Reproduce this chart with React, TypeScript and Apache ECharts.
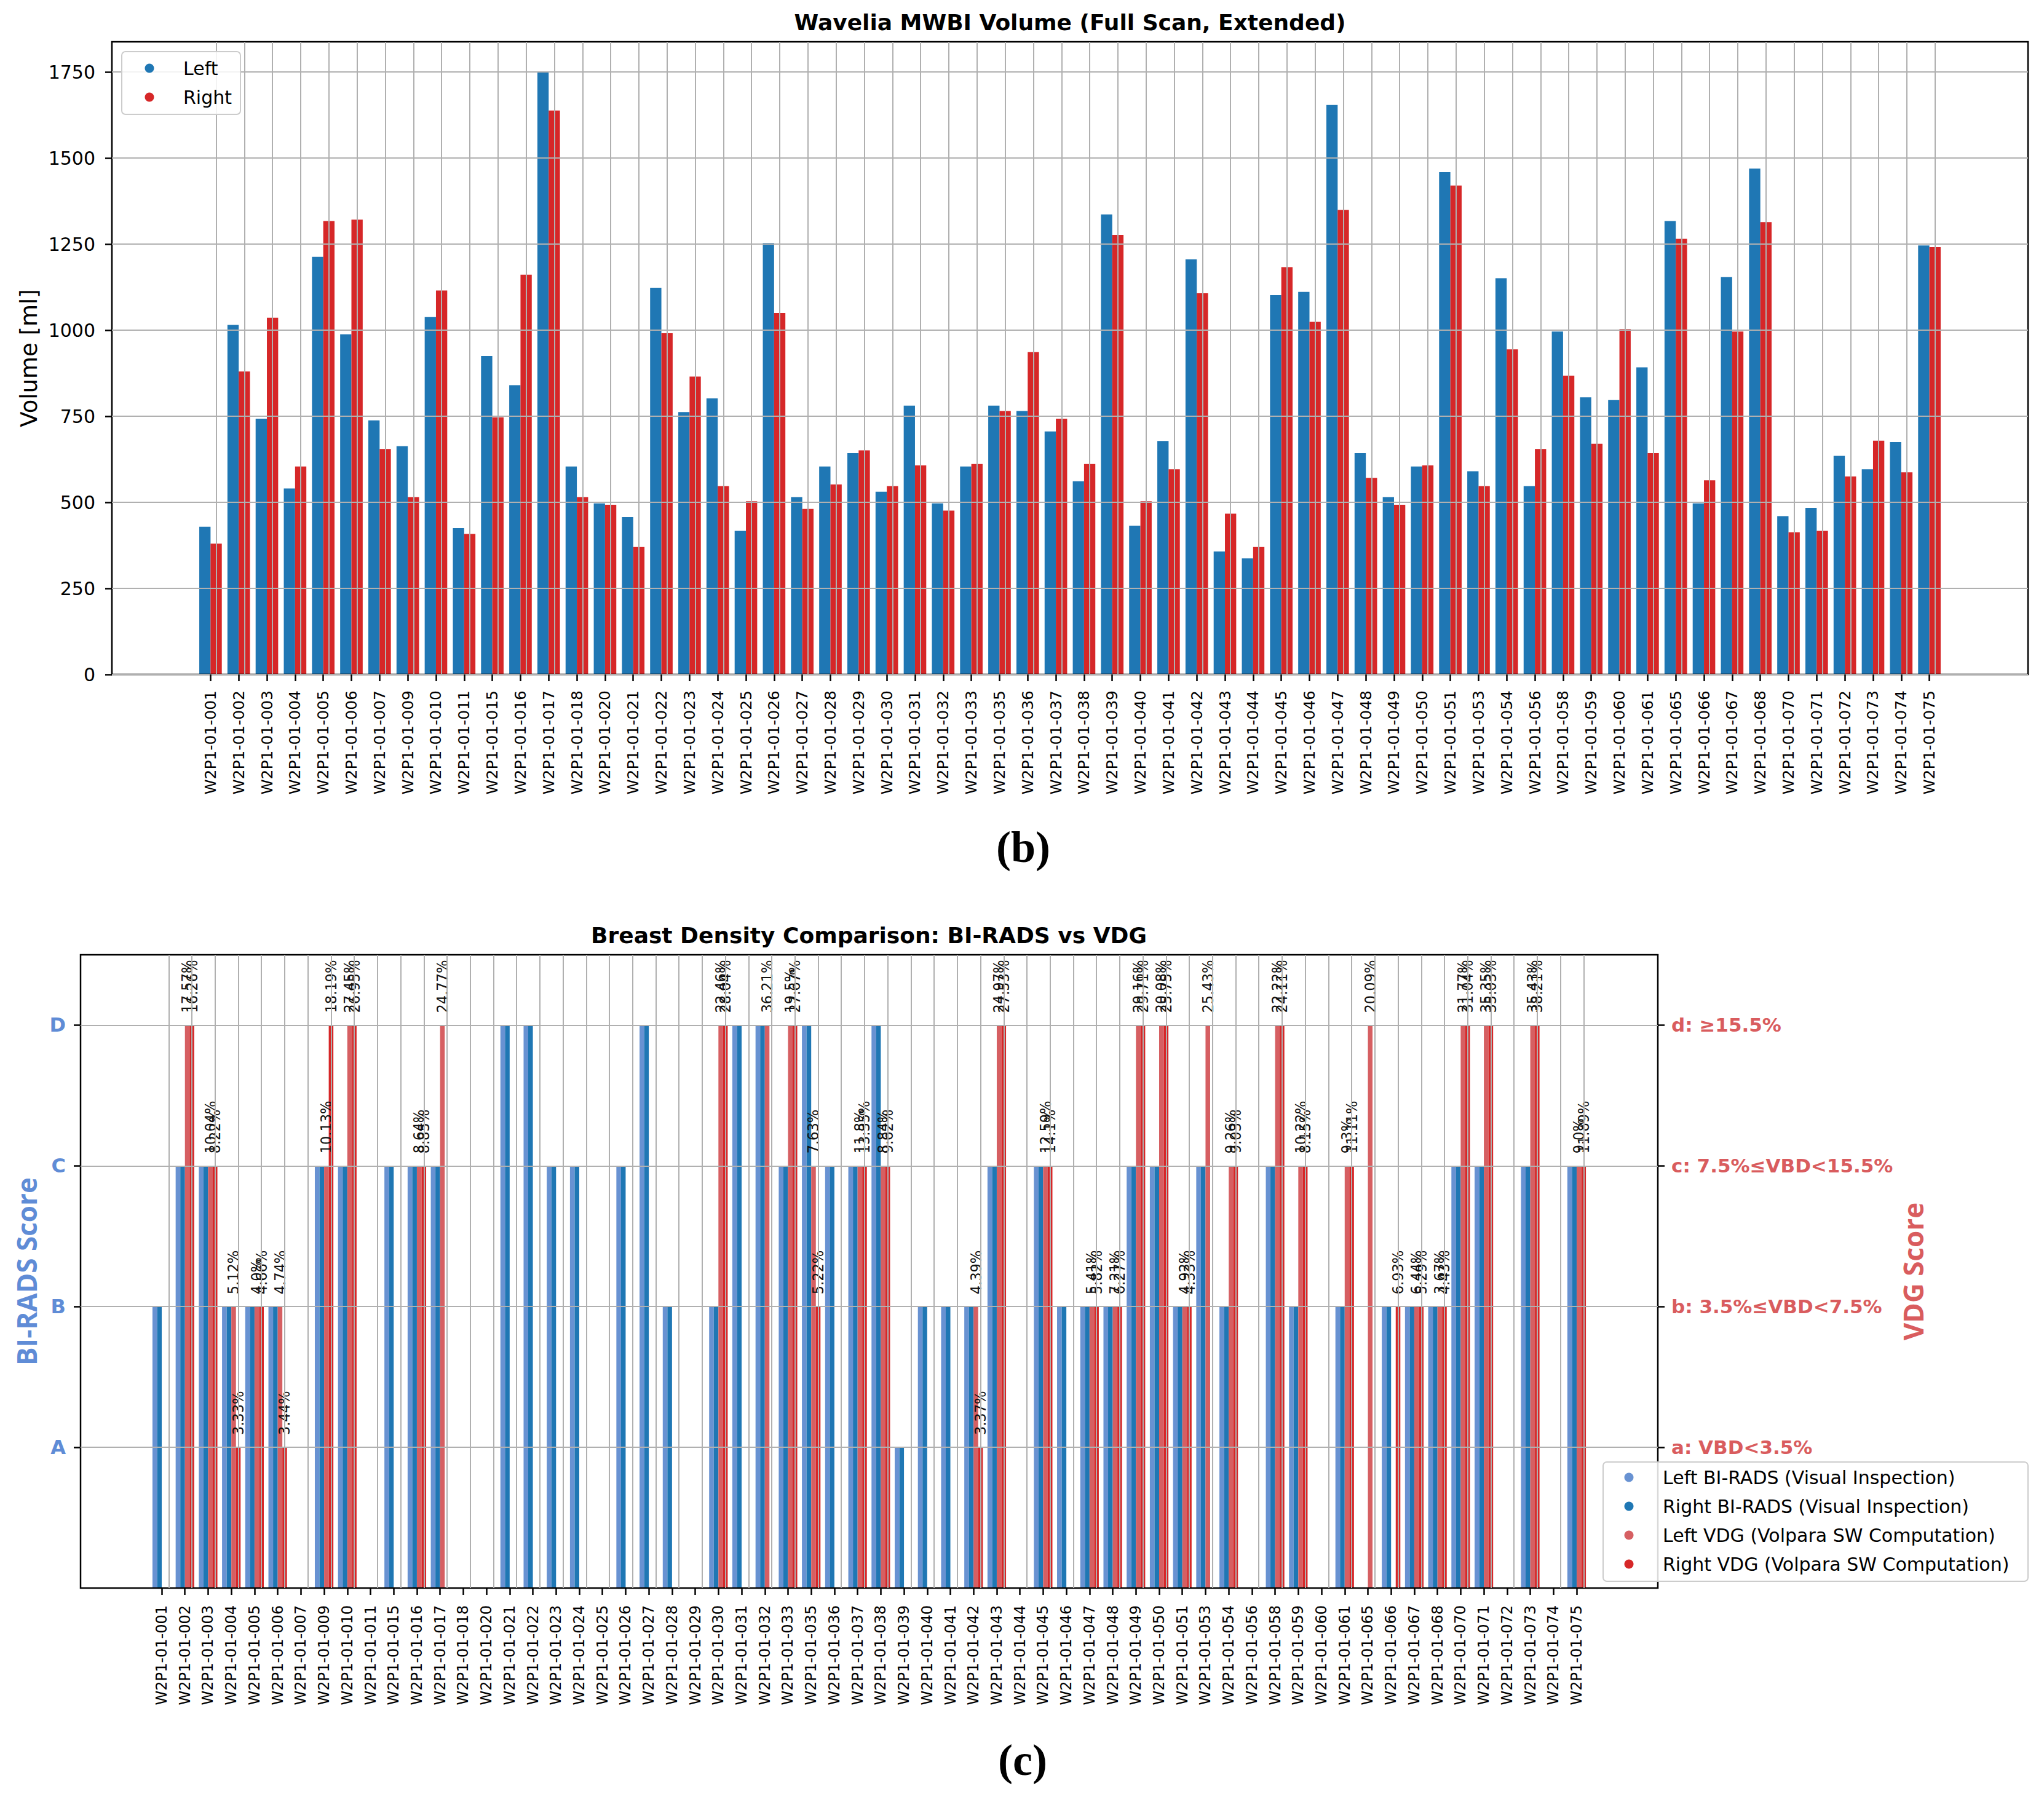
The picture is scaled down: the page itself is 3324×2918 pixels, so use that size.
import React, { useEffect, useRef } from 'react';
import * as echarts from 'echarts';

// case ids shared by both panels
const cases = [
  'W2P1-01-001', 'W2P1-01-002', 'W2P1-01-003', 'W2P1-01-004', 'W2P1-01-005', 'W2P1-01-006',
  'W2P1-01-007', 'W2P1-01-009', 'W2P1-01-010', 'W2P1-01-011', 'W2P1-01-015', 'W2P1-01-016',
  'W2P1-01-017', 'W2P1-01-018', 'W2P1-01-020', 'W2P1-01-021', 'W2P1-01-022', 'W2P1-01-023',
  'W2P1-01-024', 'W2P1-01-025', 'W2P1-01-026', 'W2P1-01-027', 'W2P1-01-028', 'W2P1-01-029',
  'W2P1-01-030', 'W2P1-01-031', 'W2P1-01-032', 'W2P1-01-033', 'W2P1-01-035', 'W2P1-01-036',
  'W2P1-01-037', 'W2P1-01-038', 'W2P1-01-039', 'W2P1-01-040', 'W2P1-01-041', 'W2P1-01-042',
  'W2P1-01-043', 'W2P1-01-044', 'W2P1-01-045', 'W2P1-01-046', 'W2P1-01-047', 'W2P1-01-048',
  'W2P1-01-049', 'W2P1-01-050', 'W2P1-01-051', 'W2P1-01-053', 'W2P1-01-054', 'W2P1-01-056',
  'W2P1-01-058', 'W2P1-01-059', 'W2P1-01-060', 'W2P1-01-061', 'W2P1-01-065', 'W2P1-01-066',
  'W2P1-01-067', 'W2P1-01-068', 'W2P1-01-070', 'W2P1-01-071', 'W2P1-01-072', 'W2P1-01-073',
  'W2P1-01-074', 'W2P1-01-075',
];

// (b) volumes in ml
const volumeLeft = [
  429, 1015, 743, 540, 1213, 988, 738, 663, 1038, 425, 925, 840, 1750, 604, 497, 457, 1123, 762,
  802, 417, 1253, 515, 604, 643, 531, 781, 497, 604, 781, 765, 706, 561, 1336, 432, 678, 1206,
  357, 337, 1102, 1111, 1654, 643, 515, 604, 1459, 590, 1151, 547, 996, 805, 797, 892, 1317, 497,
  1154, 1469, 460, 484, 635, 596, 675, 1246,
];
const volumeRight = [
  380, 880, 1036, 604, 1317, 1321, 655, 515, 1115, 408, 747, 1161, 1638, 515, 493, 370, 991, 865,
  547, 503, 1050, 481, 552, 651, 547, 607, 476, 611, 765, 936, 743, 611, 1277, 503, 596, 1107,
  467, 370, 1183, 1024, 1349, 571, 493, 607, 1420, 547, 944, 655, 868, 670, 1003, 643, 1265, 564,
  996, 1314, 413, 417, 575, 679, 587, 1241,
];
const volumeTicks = [0, 250, 500, 750, 1000, 1250, 1500, 1750];

// (c) BI-RADS grades (same for left and right in the picture)
const biradsLeft = [
  'B', 'C', 'C', 'B', 'B', 'B', null, 'C', 'C', null, 'C', 'C', 'C', null, null, 'D', 'D', 'C',
  'C', null, 'C', 'D', 'B', null, 'B', 'D', 'D', 'C', 'D', 'C', 'C', 'D', 'A', 'B', 'B', 'B',
  'C', null, 'C', 'B', 'B', 'B', 'C', 'C', 'B', 'C', 'B', null, 'C', 'B', null, 'B', null, 'B',
  'B', 'B', 'C', 'C', null, 'C', null, 'C',
];
const biradsRight = [
  'B', 'C', 'C', 'B', 'B', 'B', null, 'C', 'C', null, 'C', 'C', 'C', null, null, 'D', 'D', 'C',
  'C', null, 'C', 'D', 'B', null, 'B', 'D', 'D', 'C', 'D', 'C', 'C', 'D', 'A', 'B', 'B', 'B',
  'C', null, 'C', 'B', 'B', 'B', 'C', 'C', 'B', 'C', 'B', null, 'C', 'B', null, 'B', null, 'B',
  'B', 'B', 'C', 'C', null, 'C', null, 'C',
];

// (c) Volpara breast density in %
const vdgLeft = [
  null, 17.57, 10.04, 5.12, 4.0, 4.74, null, 10.13, 27.45, null, null, 8.64, 24.77, null, null, null, null, null,
  null, null, null, null, null, null, 22.46, null, 36.21, 19.5, 7.63, null, 11.8, 8.84, null, null, null, 4.39,
  24.97, null, 12.59, null, 5.41, 7.21, 29.16, 20.08, 4.92, 25.43, 9.26, null, 22.22, 10.22, null, 9.3, 20.09, null,
  6.44, 3.67, 21.77, 35.35, null, 35.43, null, 9.0,
];
const vdgRight = [
  null, 16.26, 8.22, 3.33, 4.66, 3.44, null, 18.19, 26.95, null, null, 8.85, null, null, null, null, null, null,
  null, null, null, null, null, null, 28.04, null, null, 27.67, 5.22, null, 13.35, 9.62, null, null, null, 3.37,
  27.53, null, 14.1, null, 5.82, 6.27, 29.71, 25.75, 4.33, null, 9.03, null, 24.11, 8.15, null, 11.11, null, 6.93,
  5.29, 4.43, 31.04, 35.03, null, 38.21, null, 11.89,
];

const gradeTicks = [1, 2, 3, 4];
const biradsTickLabels = ['A', 'B', 'C', 'D'];
const vdgTickLabels = ['a: VBD<3.5%', 'b: 3.5%≤VBD<7.5%', 'c: 7.5%≤VBD<15.5%', 'd: ≥15.5%'];
const vdgBounds = [3.5, 7.5, 15.5];

// empty slots on each side of the category axis
const PAD = 3;

function padded(arr: any[], fill: any) {
  const side = new Array(PAD).fill(fill);
  return [...side, ...arr, ...side];
}

const biradsLevel = (g: string | null) => (g == null ? '-' : biradsTickLabels.indexOf(g) + 1);
const vdgLevel = (p: number | null) => {
  if (p == null) return '-';
  let lvl = 1;
  vdgBounds.forEach((b) => {
    if (p >= b) lvl += 1;
  });
  return lvl;
};
// python-like float text: 4.0 stays "4.0"
const pctText = (p: number) => (Number.isInteger(p) ? p.toFixed(1) : String(p)) + '%';

const GRID_COLOR = '#b0b0b0';
const BLUE = '#1f77b4';
const RED = '#d62728';
const LIGHT_BLUE = '#6892d2';
const LIGHT_RED = '#d65f62';
const AXIS_BLUE = '#5f8cd6';
const AXIS_RED = '#d95c5e';
const FONT = 'DejaVu Sans';

// legend drawn by hand so marker/text spacing matches matplotlib
function legendBox(
  left: number,
  top: number,
  width: number,
  height: number,
  rowY: number[],
  markerX: number,
  textX: number,
  items: { name: string; color: string }[],
) {
  const children: any[] = [
    {
      type: 'rect',
      shape: { x: left, y: top, width, height, r: 6 },
      style: { fill: 'rgba(255,255,255,0.85)', stroke: '#cccccc', lineWidth: 2 },
      z: 10,
    },
  ];
  items.forEach((it, i) => {
    children.push({
      type: 'circle',
      shape: { cx: markerX, cy: rowY[i], r: 7.5 },
      style: { fill: it.color },
      z: 11,
    });
    children.push({
      type: 'text',
      x: textX,
      y: rowY[i],
      style: {
        text: it.name,
        font: `30px "${FONT}"`,
        fill: '#000',
        align: 'left',
        verticalAlign: 'middle',
        textAlign: 'left',
        textVerticalAlign: 'middle',
      },
      z: 11,
    });
  });
  return { type: 'group', silent: true, children };
}

const App: React.FC = () => {
  const chartRef = useRef<HTMLDivElement>(null);

  useEffect(() => {
    if (!chartRef.current) return;
    document.body.style.margin = '0';

    const chart = echarts.init(chartRef.current, undefined, { renderer: 'svg' });

    const axisNames = padded(cases, '');
    const isRealSlot = (i: number) => i >= PAD && i < PAD + cases.length;
    const tickLine = { color: '#000', width: 2.5 };

    const vGrid = {
      silent: true,
      symbol: ['none', 'none'],
      label: { show: false },
      emphasis: { disabled: true },
      lineStyle: { color: GRID_COLOR, width: 2, type: 'solid' as const },
      data: cases.map((_, i) => ({ xAxis: i + PAD })),
      animation: false,
    };

    const catAxis = (gridIndex: number, margin: number, fontSize: number) => ({
      type: 'category' as const,
      gridIndex,
      data: axisNames,
      boundaryGap: true,
      axisLine: { show: false },
      axisTick: {
        show: true,
        alignWithLabel: true,
        interval: (i: number) => isRealSlot(i),
        length: 11,
        lineStyle: tickLine,
      },
      axisLabel: {
        interval: 0,
        rotate: 90,
        margin,
        fontSize,
        fontFamily: FONT,
        color: '#000',
      },
      splitLine: { show: false },
      z: 3,
    });

    const vdgLabel = (pcts: (number | null)[]) => ({
      show: true,
      position: 'top' as const,
      rotate: 90,
      align: 'left' as const,
      verticalAlign: 'middle' as const,
      distance: 20,
      fontSize: 25,
      fontFamily: "'DejaVu Sans Condensed', 'DejaVu Sans', sans-serif",
      color: '#111',
      formatter: (p: any) => {
        const v = pcts[p.dataIndex - PAD];
        return v == null ? '' : pctText(v);
      },
    });

    const nameLB = 'Left BI-RADS (Visual Inspection)';
    const nameRB = 'Right BI-RADS (Visual Inspection)';
    const nameLV = 'Left VDG (Volpara SW Computation)';
    const nameRV = 'Right VDG (Volpara SW Computation)';

    const textEl = (text: string, x: number, y: number, font: string) => ({
      type: 'text',
      x,
      y,
      style: {
        text,
        font,
        fill: '#000',
        align: 'center',
        verticalAlign: 'middle',
        textAlign: 'center',
        textVerticalAlign: 'middle',
      },
    });

    const option: any = {
      animation: false,
      backgroundColor: '#ffffff',
      grid: [
        {
          left: 182, top: 68, width: 3116, height: 1029,
          show: true, borderColor: '#000', borderWidth: 2.5, backgroundColor: 'transparent', z: 3,
        },
        {
          left: 131, top: 1553, width: 2565, height: 1030,
          show: true, borderColor: '#000', borderWidth: 2.5, backgroundColor: 'transparent', z: 3,
        },
      ],
      xAxis: [catAxis(0, 26, 25), catAxis(1, 28, 24)],
      yAxis: [
        {
          type: 'value',
          gridIndex: 0,
          min: 0,
          max: 1837.5,
          interval: 250,
          name: 'Volume [ml]',
          nameLocation: 'middle',
          nameGap: 116,
          nameTextStyle: { fontSize: 37, fontFamily: FONT, color: '#000' },
          axisLine: { show: false },
          axisTick: { show: true, customValues: volumeTicks, length: 11, lineStyle: tickLine },
          axisLabel: {
            customValues: volumeTicks,
            margin: 27,
            fontSize: 30,
            fontFamily: FONT,
            color: '#000',
            formatter: (v: number) => (volumeTicks.includes(v) ? String(v) : ''),
          },
          splitLine: { show: true, lineStyle: { color: GRID_COLOR, width: 2 } },
          z: 3,
        },
        {
          type: 'value',
          gridIndex: 1,
          min: 0,
          max: 4.5,
          interval: 1,
          name: 'BI-RADS Score',
          nameLocation: 'middle',
          nameGap: 66,
          nameTextStyle: { fontSize: 44, fontFamily: 'Open Sans', fontWeight: 'bold', color: AXIS_BLUE },
          axisLine: { show: false },
          axisTick: { show: true, customValues: gradeTicks, length: 11, lineStyle: tickLine },
          axisLabel: {
            customValues: gradeTicks,
            margin: 24,
            fontSize: 32,
            fontWeight: 'bold',
            fontFamily: FONT,
            color: AXIS_BLUE,
            formatter: (v: number) => biradsTickLabels[v - 1] ?? '',
          },
          splitLine: { show: true, lineStyle: { color: GRID_COLOR, width: 2 } },
          z: 3,
        },
        {
          type: 'value',
          gridIndex: 1,
          position: 'right',
          min: 0,
          max: 4.5,
          interval: 1,
          name: 'VDG Score',
          nameLocation: 'middle',
          nameGap: 388,
          nameTextStyle: { fontSize: 44, fontFamily: 'Open Sans', fontWeight: 'bold', color: AXIS_RED },
          axisLine: { show: false },
          axisTick: { show: true, customValues: gradeTicks, length: 11, lineStyle: tickLine },
          axisLabel: {
            customValues: gradeTicks,
            margin: 22,
            fontSize: 31,
            fontWeight: 'bold',
            fontFamily: FONT,
            color: AXIS_RED,
            formatter: (v: number) => vdgTickLabels[v - 1] ?? '',
          },
          splitLine: { show: false },
          z: 3,
        },
      ],
      graphic: [
        textEl('Wavelia MWBI Volume (Full Scan, Extended)', 1740, 36, `bold 36px "${FONT}"`),
        textEl('Breast Density Comparison: BI-RADS vs VDG', 1413, 1521, `bold 36px "${FONT}"`),
        textEl('(b)', 1664, 1378, 'bold 72px "Liberation Serif"'),
        textEl('(c)', 1663, 2863, 'bold 72px "Liberation Serif"'),
        legendBox(198, 84, 193, 102, [111, 158], 243, 298, [
          { name: 'Left', color: BLUE },
          { name: 'Right', color: RED },
        ]),
        legendBox(2607, 2378, 691, 194, [2403, 2450, 2497, 2544], 2649, 2704, [
          { name: nameLB, color: LIGHT_BLUE },
          { name: nameRB, color: BLUE },
          { name: nameLV, color: LIGHT_RED },
          { name: nameRV, color: RED },
        ]),
      ],
      series: [
        {
          name: 'Left',
          type: 'bar',
          xAxisIndex: 0,
          yAxisIndex: 0,
          data: padded(volumeLeft, '-'),
          itemStyle: { color: BLUE },
          barGap: '0%',
          barCategoryGap: '20%',
          emphasis: { disabled: true },
        },
        {
          name: 'Right',
          type: 'bar',
          xAxisIndex: 0,
          yAxisIndex: 0,
          data: padded(volumeRight, '-'),
          itemStyle: { color: RED },
          barGap: '0%',
          barCategoryGap: '20%',
          emphasis: { disabled: true },
          markLine: vGrid,
        },
        {
          name: nameLB,
          type: 'bar',
          xAxisIndex: 1,
          yAxisIndex: 1,
          data: padded(biradsLeft.map(biradsLevel), '-'),
          itemStyle: { color: LIGHT_BLUE },
          barGap: '0%',
          barCategoryGap: '20%',
          emphasis: { disabled: true },
        },
        {
          name: nameRB,
          type: 'bar',
          xAxisIndex: 1,
          yAxisIndex: 1,
          data: padded(biradsRight.map(biradsLevel), '-'),
          itemStyle: { color: BLUE },
          barGap: '0%',
          barCategoryGap: '20%',
          emphasis: { disabled: true },
        },
        {
          name: nameLV,
          type: 'bar',
          xAxisIndex: 1,
          yAxisIndex: 1,
          data: padded(vdgLeft.map(vdgLevel), '-'),
          itemStyle: { color: LIGHT_RED },
          barGap: '0%',
          barCategoryGap: '20%',
          label: vdgLabel(vdgLeft),
          emphasis: { disabled: true },
        },
        {
          name: nameRV,
          type: 'bar',
          xAxisIndex: 1,
          yAxisIndex: 1,
          data: padded(vdgRight.map(vdgLevel), '-'),
          itemStyle: { color: RED },
          barGap: '0%',
          barCategoryGap: '20%',
          label: vdgLabel(vdgRight),
          emphasis: { disabled: true },
          markLine: vGrid,
        },
      ],
    };

    chart.setOption(option);

    return () => {
      chart.dispose();
    };
  }, []);

  return <div ref={chartRef} style={{ width: '3324px', height: '2918px' }} />;
};

export default App;
